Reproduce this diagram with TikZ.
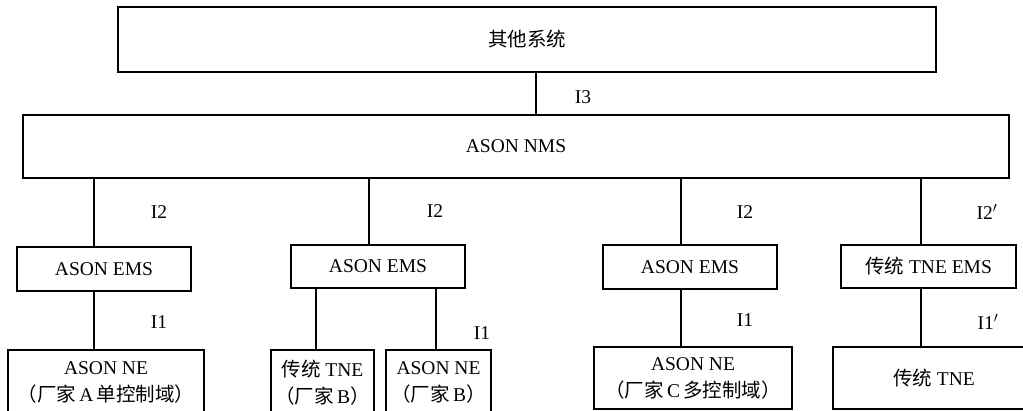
\documentclass[tikz,border=0pt]{standalone}
\usepackage{fontspec}
\setmainfont{Liberation Serif}
\newfontfamily\cjk{Noto Sans CJK SC}
\begin{document}
\begin{tikzpicture}[x=1pt,y=-1pt,
  box/.style={draw,line width=1.3pt,inner sep=0pt,outer sep=0pt,align=center,font=\fontsize{19.5}{27}\selectfont},
  conn/.style={line width=1.2pt},
  lab/.style={inner sep=0pt,font=\fontsize{19.5}{24}\selectfont}]
\useasboundingbox (0,0) rectangle (1023,411);
% boxes
\node[box,minimum width=818pt,minimum height=65pt] (top) at (527,39.5) {\cjk 其他系统};
\node[box,minimum width=986pt,minimum height=63pt] (nms) at (516,146.5) {ASON NMS};
\node[box,minimum width=174pt,minimum height=44pt] (ems1) at (104,269) {ASON EMS};
\node[box,minimum width=174pt,minimum height=43pt] (ems2) at (378,266.5) {ASON EMS};
\node[box,minimum width=174pt,minimum height=44pt] (ems3) at (690,267) {ASON EMS};
\node[box,minimum width=175pt,minimum height=43pt] (ems4) at (928.5,266.5) {{\cjk 传统} TNE EMS};
\node[box,minimum width=196pt,minimum height=65pt] (ne1) at (106,382.5) {ASON NE\\{\cjk （厂家}\,A\,{\cjk 单控制域）}};
\node[box,minimum width=103pt,minimum height=65pt] (ne2) at (322.5,382.5) {{\cjk 传统} TNE\\{\cjk （厂家}\,B{\cjk ）}};
\node[box,minimum width=105pt,minimum height=65pt] (ne3) at (438.5,382.5) {ASON NE\\{\cjk （厂家}\,B{\cjk ）}};
\node[box,minimum width=198pt,minimum height=62pt] (ne4) at (693,378) {ASON NE\\{\cjk （厂家}\,C\,{\cjk 多控制域）}};
\node[box,minimum width=202pt,minimum height=62pt] (ne5) at (934,378) {{\cjk 传统} TNE};
% connectors
\draw[conn] (top.south -| 536,0) -- (nms.north -| 536,0);
\draw[conn] (nms.south -| 94,0) -- (ems1.north -| 94,0);
\draw[conn] (nms.south -| 369,0) -- (ems2.north -| 369,0);
\draw[conn] (nms.south -| 681,0) -- (ems3.north -| 681,0);
\draw[conn] (nms.south -| 921,0) -- (ems4.north -| 921,0);
\draw[conn] (ems1.south -| 94,0) -- (ne1.north -| 94,0);
\draw[conn] (ems2.south -| 316,0) -- (ne2.north -| 316,0);
\draw[conn] (ems2.south -| 436,0) -- (ne3.north -| 436,0);
\draw[conn] (ems3.south -| 681,0) -- (ne4.north -| 681,0);
\draw[conn] (ems4.south -| 921,0) -- (ne5.north -| 921,0);
% labels
\node[lab] (l3) at (583,97) {I3};
\node[lab] (l21) at (159,212) {I2};
\node[lab] (l22) at (435,211) {I2};
\node[lab] (l23) at (745,212) {I2};
\node[lab] (l24) at (987,212) {I2$'$};
\node[lab] (l11) at (159,322) {I1};
\node[lab] (l12) at (482,333) {I1};
\node[lab] (l13) at (745,320) {I1};
\node[lab] (l14) at (988,322) {I1$'$};
\end{tikzpicture}
\end{document}
